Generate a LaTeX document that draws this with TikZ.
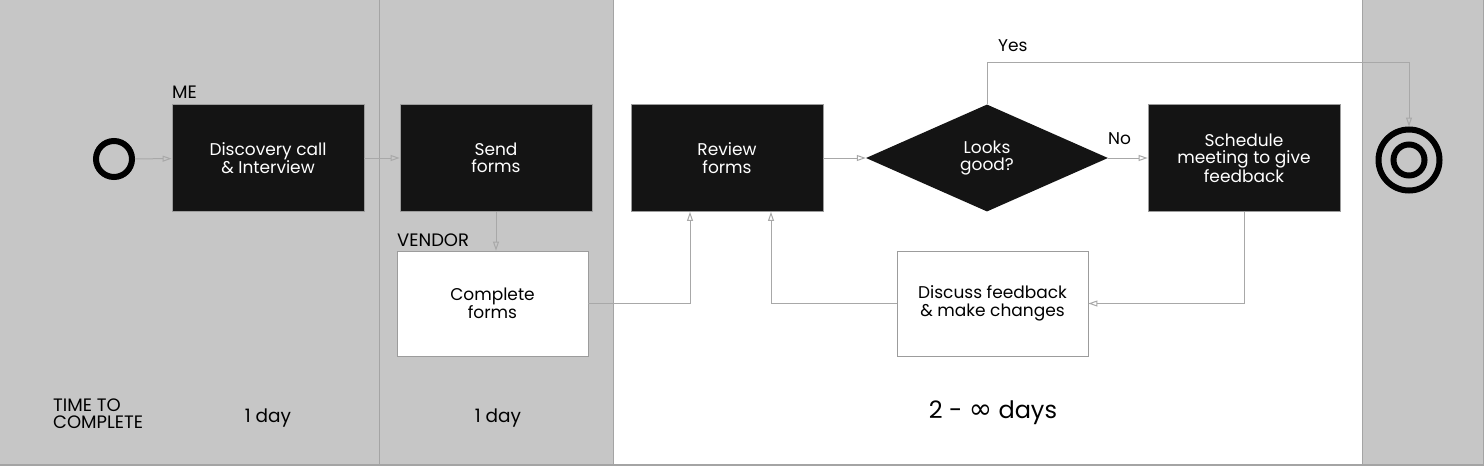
\documentclass[tikz,border=0pt]{standalone}
\usepackage{fontspec}
\setmainfont{Poppins}
\newfontfamily\symfont{DejaVu Sans}
\usetikzlibrary{arrows.meta,shapes.geometric}
\definecolor{lanegray}{HTML}{C6C6C6}
\definecolor{lanerule}{HTML}{A4A4A4}
\definecolor{boxblack}{HTML}{141414}
\definecolor{edgegray}{HTML}{9C9C9C}
\definecolor{flowgray}{HTML}{A8A8A8}
\begin{document}
\begin{tikzpicture}[x=1pt,y=-1pt,
  boxtext/.style={font=\fontsize{17}{17.5}\selectfont, align=center, inner sep=0pt},
  blackbox/.style={boxtext, draw=edgegray, line width=0.8pt, fill=boxblack, text=white,
    minimum width=192pt, minimum height=107pt},
  whitebox/.style={boxtext, draw=edgegray, line width=0.8pt, fill=white, text=black,
    minimum width=191pt, minimum height=105pt},
  decision/.style={boxtext, diamond, fill=boxblack, text=white,
    minimum width=242pt, minimum height=107pt},
  lanelabel/.style={font=\fontsize{18}{18}\selectfont, anchor=west, inner sep=0pt},
  timelabel/.style={font=\fontsize{18.5}{19}\selectfont, inner sep=0pt},
  flow/.style={draw=flowgray, line width=1pt, -{Triangle[open,length=9pt,width=6pt]}},
]
\useasboundingbox (0,0) rectangle (1484,466);
% lanes
\fill[lanegray] (0,0) rectangle (613,466);
\fill[white] (613,0) rectangle (1362,466);
\fill[lanegray] (1362,0) rectangle (1484,466);
\draw[lanerule, line width=1pt] (379,0) -- (379,466);
\draw[lanerule, line width=1pt] (613,0) -- (613,466);
\draw[lanerule, line width=1pt] (1362,0) -- (1362,466);
\draw[lanerule, line width=1.5pt] (0,465) -- (1483.5,465) -- (1483.5,0);

% nodes
\node[circle, draw=black, line width=6pt, minimum size=36pt, inner sep=0pt] (start) at (114,159) {};
\node[blackbox] (disc) at (268,158) {Discovery call\\\& Interview};
\node[blackbox] (send) at (496,158) {Send\\forms};
\node[whitebox] (complete) at (492.5,303.5) {Complete\\forms};
\node[blackbox] (review) at (727,158) {Review\\forms};
\node[decision] (dia) at (987,158) {Looks\\good?};
\node[blackbox] (sched) at (1244,158) {Schedule\\meeting to give\\feedback};
\node[whitebox] (discuss) at (992.5,303.5) {Discuss feedback\\\& make changes};
\node[circle, draw=black, line width=6pt, minimum size=61pt, inner sep=0pt] (endc) at (1409,160) {};
\node[circle, draw=black, line width=6pt, minimum size=31pt, inner sep=0pt] (endin) at (endc) {};

% labels
\node[lanelabel] (me) at (172,92) {ME};
\node[lanelabel] (vendor) at (397,240) {VENDOR};
\node[lanelabel, font=\fontsize{17}{17}\selectfont] (yes) at (998,46) {Yes};
\node[lanelabel, font=\fontsize{17}{17}\selectfont] (no) at (1108,139) {No};
\node[lanelabel, font=\fontsize{18}{17}\selectfont, align=left] (ttc) at (53,414) {TIME TO\\COMPLETE};
\node[timelabel] (t1) at (268,418) {1 day};
\node[timelabel] (t2) at (498,418) {1 day};
\node[timelabel, font=\fontsize{24}{25}\selectfont] (t3) at (993,413) {2 - {\symfont\fontsize{28}{25}\selectfont ∞} days};

% connectors
\coordinate (yesturn) at (987,62);
\draw[flow] (start) -- (disc);
\draw[flow] (disc) -- (send);
\draw[flow] (send.south) -- (send.south |- complete.north);
\draw[flow] (complete.east) -| ([xshift=-37pt]review.south);
\draw[flow] (review) -- (dia);
\draw[flow] (dia) -- (sched);
\draw[flow] (dia.north) -- (yesturn) -| (endc.north);
\draw[flow] (sched.south) |- (discuss.east);
\draw[flow] (discuss.west) -| ([xshift=44pt]review.south);
\end{tikzpicture}
\end{document}
